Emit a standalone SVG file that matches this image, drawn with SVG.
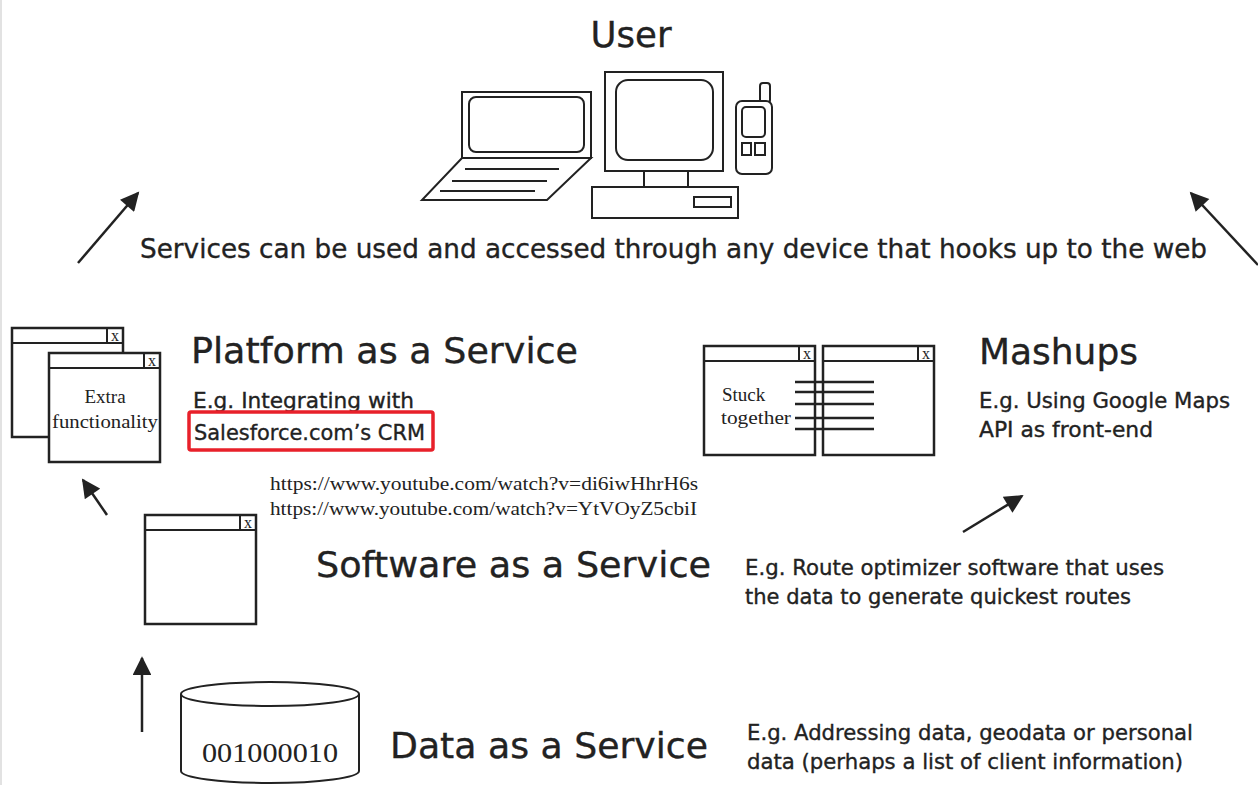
<svg xmlns="http://www.w3.org/2000/svg" width="1258" height="785" viewBox="0 0 1258 785">
  <style>
    .ln { fill: none; stroke: #222; stroke-width: 2; }
    .win { fill: #fff; stroke: #222; stroke-width: 2.5; }
    .sans { font-family: "DejaVu Sans", "Liberation Sans", sans-serif; fill: #222; stroke: #222; stroke-width: 0.35; }
    .serif { font-family: "Liberation Serif", "DejaVu Serif", serif; fill: #222; }
    .big { font-size: 36px; }
    .mid { font-size: 21px; }
    .arrow { stroke: #222; stroke-width: 2.5; fill: none; marker-end: url(#head); }
  </style>
  <defs>
    <marker id="head" viewBox="0 0 10 10" refX="9" refY="5" markerWidth="8" markerHeight="7.5" orient="auto" markerUnits="strokeWidth">
      <path d="M0,0 L10,5 L0,10 Z" fill="#222"/>
    </marker>
    <!-- small application window with a close box -->
    <g id="window">
      <rect x="0" y="0" width="111" height="109" class="win"/>
      <line x1="0" y1="15" x2="111" y2="15" class="ln" stroke-width="2.5"/>
      <line x1="95" y1="0" x2="95" y2="15" class="ln" stroke-width="2.5"/>
      <text x="103" y="13" class="serif" font-size="16" text-anchor="middle">x</text>
    </g>
  </defs>

  <rect width="1258" height="785" fill="#fff"/>
  <line x1="1" y1="0" x2="1" y2="785" stroke="#e2e2e2" stroke-width="2"/>

  <!-- User devices -->
  <g id="user">
    <text x="631" y="47" class="sans big" text-anchor="middle" textLength="81" lengthAdjust="spacingAndGlyphs">User</text>
    <!-- laptop -->
    <rect x="462" y="92" width="129" height="66" class="ln"/>
    <rect x="469" y="97" width="115" height="55" rx="7" class="ln"/>
    <path d="M462,158 L591,158 L547,200 L422,200 Z" class="ln"/>
    <line x1="465" y1="169" x2="559" y2="169" class="ln" stroke-width="2.5"/>
    <line x1="452" y1="181" x2="547" y2="181" class="ln" stroke-width="2.5"/>
    <line x1="440" y1="191" x2="535" y2="191" class="ln" stroke-width="2.5"/>
    <!-- desktop -->
    <rect x="605" y="72" width="118" height="99" class="ln"/>
    <rect x="616" y="80" width="97" height="80" rx="12" class="ln"/>
    <rect x="644" y="171" width="44" height="16" class="ln"/>
    <rect x="592" y="187" width="146" height="31" class="ln"/>
    <rect x="694" y="197" width="37" height="10" class="ln"/>
    <!-- phone -->
    <rect x="760" y="83" width="10" height="20" rx="3" class="ln"/>
    <rect x="736" y="101" width="36" height="73" rx="6" class="ln" style="fill:#fff"/>
    <rect x="742" y="107" width="23" height="30" rx="4" class="ln"/>
    <rect x="742" y="143" width="9" height="12" class="ln"/>
    <rect x="755" y="143" width="10" height="12" class="ln"/>
  </g>

  <g id="caption">
    <text x="140" y="258" class="sans" font-size="27" textLength="1067" lengthAdjust="spacingAndGlyphs">Services can be used and accessed through any device that hooks up to the web</text>
  </g>

  <!-- Platform as a Service -->
  <g id="paas">
    <use href="#window" x="12" y="328"/>
    <use href="#window" x="49" y="353"/>
    <text x="105" y="403" class="serif" font-size="19" text-anchor="middle">Extra</text>
    <text x="105" y="428" class="serif" font-size="19" text-anchor="middle" textLength="106" lengthAdjust="spacingAndGlyphs">functionality</text>
    <text x="191" y="363" class="sans big" textLength="387" lengthAdjust="spacingAndGlyphs">Platform as a Service</text>
    <text x="193" y="408" class="sans mid" textLength="221" lengthAdjust="spacingAndGlyphs">E.g. Integrating with</text>
    <rect x="189" y="412" width="244" height="38" rx="2" fill="none" stroke="#e8202a" stroke-width="3.5"/>
    <text x="194" y="440" class="sans mid" textLength="231" lengthAdjust="spacingAndGlyphs">Salesforce.com’s CRM</text>
  </g>

  <g id="links">
    <text x="270" y="490" class="serif" font-size="18" textLength="428" lengthAdjust="spacingAndGlyphs">https://www.youtube.com/watch?v=di6iwHhrH6s</text>
    <text x="270" y="515" class="serif" font-size="18" textLength="427" lengthAdjust="spacingAndGlyphs">https://www.youtube.com/watch?v=YtVOyZ5cbiI</text>
  </g>

  <!-- Mashups -->
  <g id="mashups">
    <use href="#window" x="704" y="346"/>
    <use href="#window" x="823" y="346"/>
    <g stroke="#222" stroke-width="2.5">
      <line x1="795" y1="382" x2="874" y2="382"/>
      <line x1="795" y1="392" x2="874" y2="392"/>
      <line x1="795" y1="404" x2="874" y2="404"/>
      <line x1="795" y1="418" x2="874" y2="418"/>
      <line x1="795" y1="429" x2="874" y2="429"/>
    </g>
    <text x="722" y="401" class="serif" font-size="19">Stuck</text>
    <text x="721" y="424" class="serif" font-size="19" textLength="70" lengthAdjust="spacingAndGlyphs">together</text>
    <text x="979" y="364" class="sans big" textLength="159" lengthAdjust="spacingAndGlyphs">Mashups</text>
    <text x="979" y="408" class="sans mid" textLength="251" lengthAdjust="spacingAndGlyphs">E.g. Using Google Maps</text>
    <text x="979" y="437" class="sans mid" textLength="174" lengthAdjust="spacingAndGlyphs">API as front-end</text>
  </g>

  <!-- Software as a Service -->
  <g id="saas">
    <use href="#window" x="145" y="515"/>
    <text x="316" y="577" class="sans big" textLength="395" lengthAdjust="spacingAndGlyphs">Software as a Service</text>
    <text x="745" y="575" class="sans mid" textLength="419" lengthAdjust="spacingAndGlyphs">E.g. Route optimizer software that uses</text>
    <text x="745" y="604" class="sans mid" textLength="386" lengthAdjust="spacingAndGlyphs">the data to generate quickest routes</text>
  </g>

  <!-- Data as a Service -->
  <g id="daas">
    <path d="M181,694 L181,771 A89,12 0 0 0 359,771 L359,694" class="ln"/>
    <ellipse cx="270" cy="694" rx="89" ry="12" class="ln"/>
    <text x="270" y="762" class="serif" font-size="28" text-anchor="middle" textLength="136" lengthAdjust="spacingAndGlyphs">001000010</text>
    <text x="390" y="758" class="sans big" textLength="318" lengthAdjust="spacingAndGlyphs">Data as a Service</text>
    <text x="747" y="740" class="sans mid" textLength="446" lengthAdjust="spacingAndGlyphs">E.g. Addressing data, geodata or personal</text>
    <text x="747" y="769" class="sans mid" textLength="436" lengthAdjust="spacingAndGlyphs">data (perhaps a list of client information)</text>
  </g>

  <!-- connectors -->
  <g id="connectors">
    <line x1="78" y1="263" x2="138" y2="193" class="arrow"/>
    <line x1="1258" y1="265" x2="1191" y2="193" class="arrow"/>
    <line x1="107" y1="515" x2="83" y2="480" class="arrow"/>
    <line x1="963" y1="532" x2="1022" y2="496" class="arrow"/>
    <line x1="142" y1="732" x2="142" y2="658" class="arrow"/>
  </g>
</svg>
